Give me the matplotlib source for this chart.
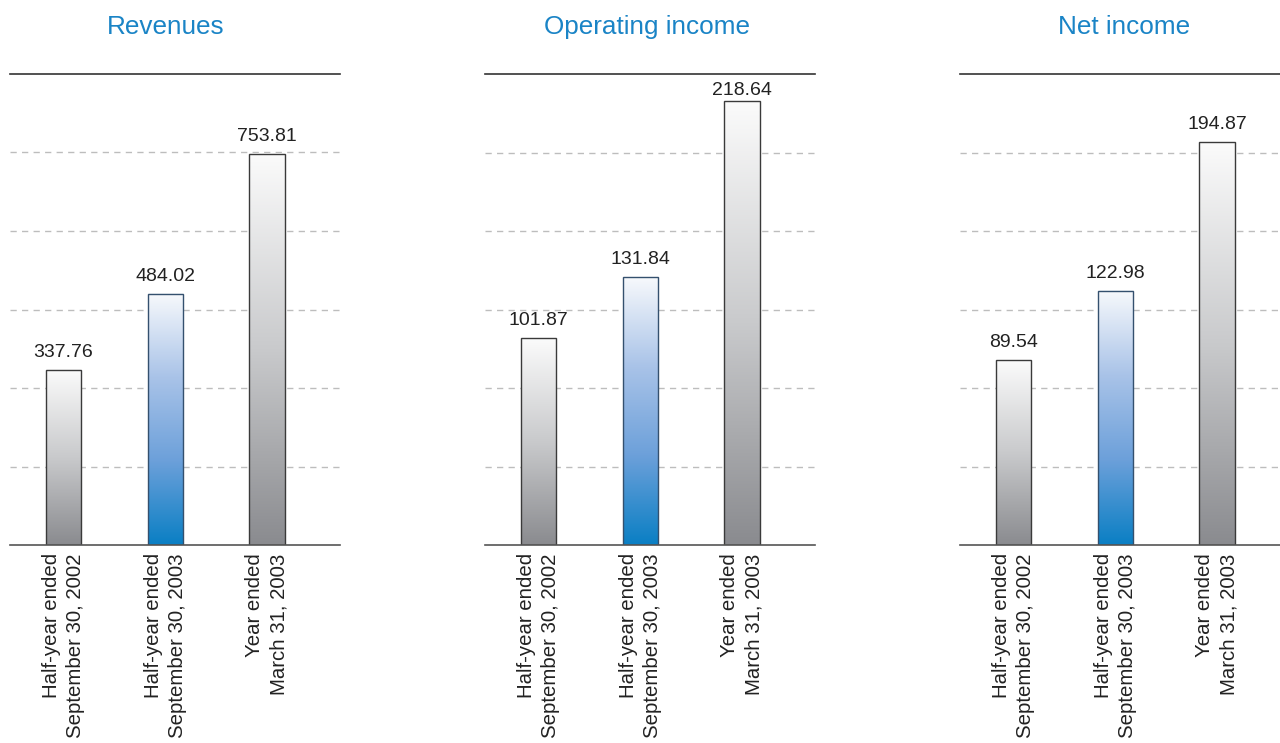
import numpy as np
import matplotlib.pyplot as plt
from matplotlib.colors import LinearSegmentedColormap

# ============================================================================
# DATA
# ============================================================================

periods = ["Half-year ended\nSeptember 30, 2002",
           "Half-year ended\nSeptember 30, 2003",
           "Year ended\nMarch 31, 2003"]

titles = ["Revenues", "Operating income", "Net income"]

revenues = [337.76, 484.02, 753.81]
operating_income = [101.87, 131.84, 218.64]
net_income = [89.54, 122.98, 194.87]

# axis tops (6 equal grid steps)
axis_max = [908, 232, 228]

# ============================================================================
# STYLE
# ============================================================================

plt.rcParams['font.family'] = ['Liberation Sans', 'DejaVu Sans']

TITLE_COLOR = '#1a84c6'
gray_cmap = LinearSegmentedColormap.from_list('g', ['#fbfbfb', '#c9cacc', '#8a8b8f'])
blue_cmap = LinearSegmentedColormap.from_list('b', ['#f7f9fc', '#a9c3e8', '#6ca0da', '#0a7fc4'])
bar_cmaps = [gray_cmap, blue_cmap, gray_cmap]
edge_colors = ['#3a3a3a', '#34506e', '#3a3a3a']

W, H = 1280, 743
fig = plt.figure(figsize=(W / 100, H / 100), dpi=100)

# panel pixel extents (left, right), shared top/bottom
panels_px = [(10, 340), (485, 815), (960, 1290)]
title_x = [166, 647, 1124]
top_px, base_px = 74, 545
plot_h = base_px - top_px
bar_w = 0.345
spacing = 101.75          # px between bar centres
label_gap = 13            # px from bar top to label baseline
label_min_top = 95        # label baseline must stay below this (px from top)

series = [revenues, operating_income, net_income]

for p, (values, ymax) in enumerate(zip(series, axis_max)):
    x0, x1 = panels_px[p]
    ax = fig.add_axes([x0 / W, (H - base_px) / H, (x1 - x0) / W, plot_h / H])
    unit = ymax / plot_h  # data units per pixel

    xs = np.arange(len(values))
    for i, v in enumerate(values):
        grad = np.linspace(0, 1, 256).reshape(-1, 1)
        ax.imshow(grad, cmap=bar_cmaps[i], aspect='auto',
                  extent=[i - bar_w / 2, i + bar_w / 2, 0, v], zorder=2)
    ax.bar(xs, values, width=bar_w, facecolor='none', edgecolor=edge_colors,
           linewidth=1.0, zorder=3)

    for i, v in enumerate(values):
        y_lab = min(v + label_gap * unit, (base_px - label_min_top) * unit)
        ax.text(i, y_lab, f"{v:.2f}", ha='center', va='baseline',
                fontsize=14, color='#222222')

    # dashed gridlines
    for k in range(1, 6):
        ax.axhline(ymax * k / 6, color='#bdbdbd', linestyle=(0, (4.5, 3.8)),
                   linewidth=1.0, zorder=1)
    ax.axhline(ymax, color='#333333', linewidth=1.2, clip_on=False, zorder=1)
    ax.axhline(0, color='#555555', linewidth=1.2, clip_on=False, zorder=4)

    ax.set_xlim(-53.5 / spacing, -53.5 / spacing + (x1 - x0) / spacing)
    ax.set_ylim(0, ymax)

    for s in ax.spines.values():
        s.set_visible(False)
    ax.set_yticks([])
    ax.set_xticks(xs)
    ax.set_xticklabels(periods, rotation=90, ha='center', va='top',
                       multialignment='right', fontsize=14.7, color='#222222',
                       linespacing=1.35)
    ax.tick_params(axis='x', length=0, pad=6)

    fig.text(title_x[p] / W, 1 - 27 / H, titles[p], ha='center', va='center',
             fontsize=18.8, color=TITLE_COLOR)

plt.savefig('out.png', dpi=100)
